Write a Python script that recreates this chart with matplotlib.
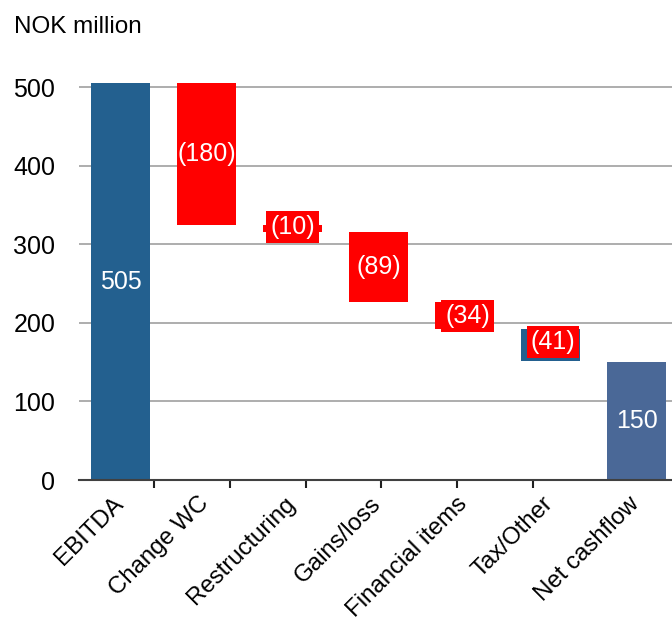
import numpy as np
import matplotlib.pyplot as plt

plt.rcParams['font.family'] = ['Liberation Sans', 'DejaVu Sans']

categories = ['EBITDA', 'Change WC', 'Restructuring', 'Gains/loss',
              'Financial items', 'Tax/Other', 'Net cashflow']
bottoms = [0, 325, 315, 226, 192, 151, 0]
heights = [505, 180, 10, 89, 34, 41, 150]
labels = ['505', '(180)', '(10)', '(89)', '(34)', '(41)', '150']
colors = ['#23608F', '#FF0000', '#FF0000', '#FF0000', '#FF0000', '#23608F', '#4A6897']
label_boxed = [False, False, True, False, True, True, False]
label_dx = [0, 0, 0, 0, 0.035, 0.025, 0]
label_dy = [0, 0, 2, 0, 0, 4.5, 0]

fig = plt.figure(figsize=(6.72, 6.21), dpi=100)
ax = fig.add_axes([79 / 672, 1 - 480 / 621, 1 - 79 / 672, (480 - 71.3) / 621])

x = np.arange(len(categories))
ax.bar(x, heights, bottom=bottoms, width=0.686, color=colors, zorder=2)

for i in range(len(categories)):
    yc = bottoms[i] + heights[i] / 2 + label_dy[i]
    box = None
    if label_boxed[i]:
        box = dict(boxstyle='square,pad=0.16', fc='#FF0000', ec='none')
    ax.text(x[i] + label_dx[i], yc, labels[i], color='white', fontsize=18,
            ha='center', va='center', zorder=3, bbox=box)

ax.set_xlim(-0.483, 6.41)
ax.set_ylim(0, 520)
ax.set_yticks([0, 100, 200, 300, 400, 500])
ax.tick_params(axis='y', length=0, labelsize=18, pad=17)
ax.yaxis.grid(True, color='#A0A0A0', linewidth=1.2, zorder=0)
ax.set_axisbelow(True)

# category ticks as drawn in the original (not aligned to bars)
ax.set_xticks(0.39 + 0.88 * np.arange(6))
ax.set_xticklabels([])
ax.tick_params(axis='x', length=6, width=1.5, color='#202020', direction='out')
for i, name in enumerate(categories):
    ax.text(x[i] - 0.1, -16, name, rotation=45, ha='right', va='top',
            rotation_mode='anchor', fontsize=17.3)

for s in ['top', 'right', 'left']:
    ax.spines[s].set_visible(False)
ax.spines['bottom'].set_color('#404040')
ax.spines['bottom'].set_linewidth(1.5)

fig.text(14 / 672, 1 - 27 / 621, 'NOK million', fontsize=17.5, va='center', ha='left')

fig.savefig('out.png', dpi=100)
